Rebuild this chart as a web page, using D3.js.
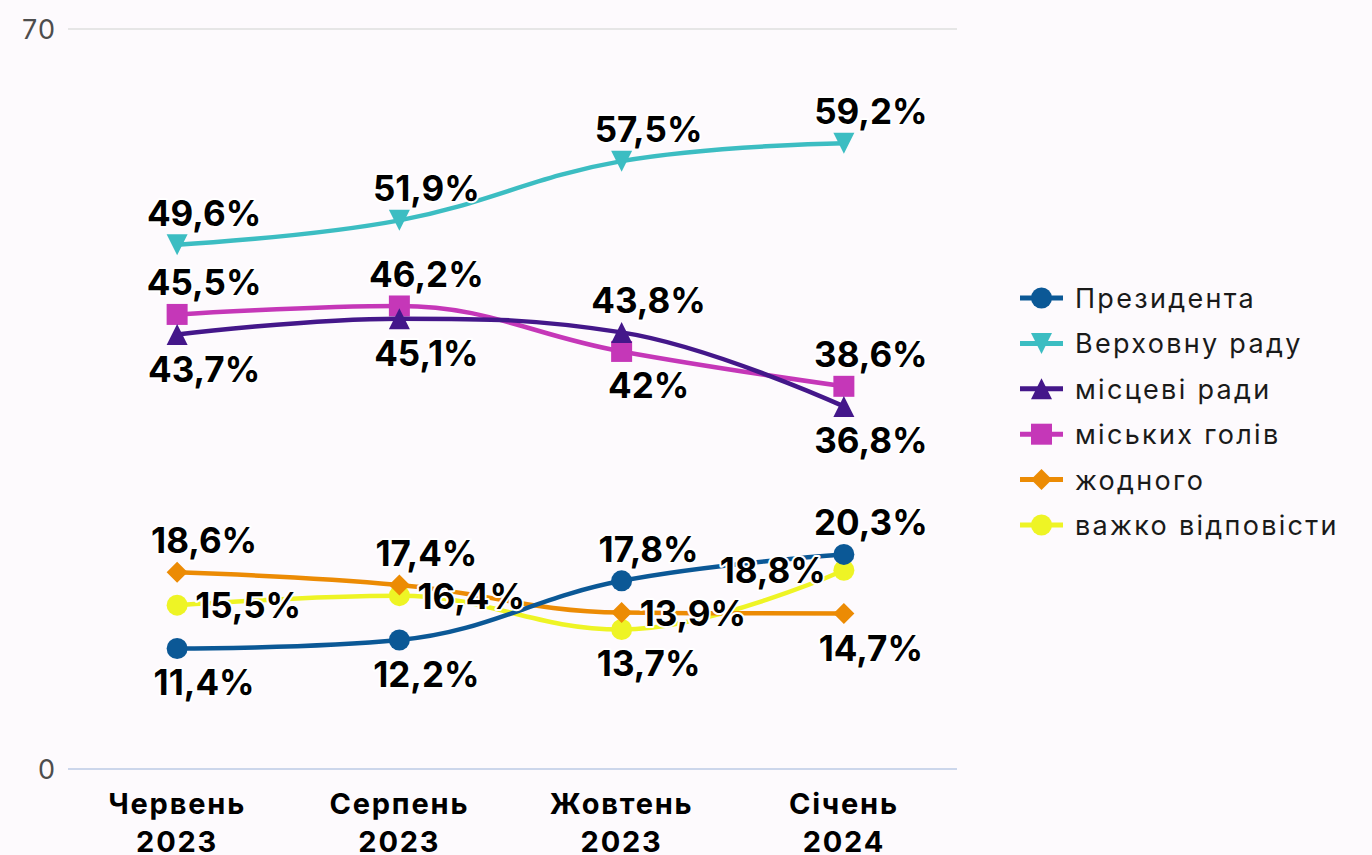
<!DOCTYPE html>
<html>
<head>
<meta charset="utf-8">
<script src="https://cdn.jsdelivr.net/npm/d3@7"></script>
<style>
  html, body { margin: 0; padding: 0; background: #fdfafd; }
  svg { display: block; font-family: Inter, "Noto Sans", sans-serif; }
</style>
</head>
<body>
<div id="chart"></div>
<script>
// categories (x axis)
const categories = ['Червень 2023', 'Серпень 2023', 'Жовтень 2023', 'Січень 2024'];
const yTicks = [0, 70];

const seriesNames = ['Президента', 'Верховну раду', 'місцеві ради', 'міських голів', 'жодного', 'важко відповісти'];

// plotted values
const president = [11.4, 12.2, 17.8, 20.3];
const parliament = [49.6, 51.9, 57.5, 59.2];
const localCouncils = [41.1, 42.6, 41.3, 34.3];
const mayors = [43.0, 43.8, 39.5, 36.2];
const nobody = [18.6, 17.4, 14.8, 14.7];
const hardToSay = [15.5, 16.4, 13.2, 18.8];

// printed data labels
const presidentLabels = ['11,4%', '12,2%', '17,8%', '20,3%'];
const parliamentLabels = ['49,6%', '51,9%', '57,5%', '59,2%'];
const localCouncilsLabels = ['43,7%', '45,1%', '43,8%', '36,8%'];
const mayorsLabels = ['45,5%', '46,2%', '42%', '38,6%'];
const nobodyLabels = ['18,6%', '17,4%', '13,9%', '14,7%'];
const hardToSayLabels = ['15,5%', '16,4%', '13,7%', '18,8%'];

const colors = ['#0b5896', '#3cbdc2', '#44178a', '#c537b8', '#ec8b04', '#eef425'];
const symbols = ['circle', 'triangle-down', 'triangle', 'square', 'diamond', 'circle'];
// where each data label sits relative to its point
const labelSides = [
  ['below', 'below', 'above', 'above'],
  ['above', 'above', 'above', 'above'],
  ['below', 'below', 'above', 'below'],
  ['above', 'above', 'below', 'above'],
  ['above', 'above', 'right', 'below'],
  ['right', 'right', 'below', 'left']
];

const values = [president, parliament, localCouncils, mayors, nobody, hardToSay];
const labels = [presidentLabels, parliamentLabels, localCouncilsLabels, mayorsLabels, nobodyLabels, hardToSayLabels];

const series = seriesNames.map((name, i) => ({
  name,
  color: colors[i],
  symbol: symbols[i],
  points: values[i].map((v, j) => ({ cat: categories[j], value: v, label: labels[i][j], side: labelSides[i][j] }))
}));

const width = 1372, height = 855;
const plot = { left: 66, right: 955, top: 29, bottom: 769 };

const svg = d3.select('#chart').append('svg')
  .attr('width', width)
  .attr('height', height);

const x = d3.scalePoint()
  .domain(categories)
  .range([plot.left, plot.right])
  .padding(0.5);

const y = d3.scaleLinear()
  .domain([0, 70])
  .range([plot.bottom, plot.top]);

// grid + y axis labels
const grid = svg.append('g').attr('class', 'grid');
grid.selectAll('line')
  .data(yTicks)
  .enter().append('line')
  .attr('x1', plot.left + 2)
  .attr('x2', plot.right + 2)
  .attr('y1', d => y(d))
  .attr('y2', d => y(d))
  .attr('stroke', d => d === 0 ? '#ccd6eb' : '#e6e6e6')
  .attr('stroke-width', 2);

grid.selectAll('text')
  .data(yTicks)
  .enter().append('text')
  .attr('x', 56)
  .attr('y', d => y(d) + 10)
  .attr('text-anchor', 'end')
  .attr('font-size', 27)
  .attr('letter-spacing', 1)
  .attr('fill', '#4d4d4d')
  .text(d => d);

// x axis labels (two lines)
const xAxis = svg.append('g').attr('class', 'x axis');
xAxis.selectAll('text')
  .data(categories)
  .enter().append('text')
  .attr('x', d => x(d))
  .attr('y', 814)
  .attr('text-anchor', 'middle')
  .attr('font-size', 29)
  .attr('font-weight', 700)
  .attr('letter-spacing', 1.8)
  .attr('fill', '#000')
  .each(function(d) {
    const parts = d.split(' ');
    d3.select(this).selectAll('tspan')
      .data(parts)
      .enter().append('tspan')
      .attr('x', x(d))
      .attr('dy', (p, i) => i === 0 ? 0 : 38)
      .text(p => p);
  });

// Highcharts-like spline
function splineCurve(context) {
  let pts = [];
  return {
    areaStart() {}, areaEnd() {},
    lineStart() { pts = []; },
    point(px, py) { pts.push({ x: +px, y: +py }); },
    lineEnd() {
      const smoothing = 1.5, denom = smoothing + 1;
      pts.forEach((p, i) => {
        if (i === 0) { context.moveTo(p.x, p.y); return; }
        const last = pts[i - 1], next = pts[i + 1];
        let lcx = p.x, lcy = p.y;
        if (next) {
          lcx = (smoothing * p.x + last.x) / denom;
          lcy = (smoothing * p.y + last.y) / denom;
          const rcx = (smoothing * p.x + next.x) / denom;
          let rcy = (smoothing * p.y + next.y) / denom;
          let corr = 0;
          if (rcx !== lcx) corr = ((rcy - lcy) * (rcx - p.x)) / (rcx - lcx) + p.y - rcy;
          lcy += corr; rcy += corr;
          if (lcy > last.y && lcy > p.y) { lcy = Math.max(last.y, p.y); rcy = 2 * p.y - lcy; }
          else if (lcy < last.y && lcy < p.y) { lcy = Math.min(last.y, p.y); rcy = 2 * p.y - lcy; }
          if (rcy > next.y && rcy > p.y) { rcy = Math.max(next.y, p.y); lcy = 2 * p.y - rcy; }
          else if (rcy < next.y && rcy < p.y) { rcy = Math.min(next.y, p.y); lcy = 2 * p.y - rcy; }
          p.rcx = rcx; p.rcy = rcy;
        }
        context.bezierCurveTo(
          last.rcx !== undefined ? last.rcx : last.x,
          last.rcy !== undefined ? last.rcy : last.y,
          lcx, lcy, p.x, p.y);
      });
    }
  };
}

const line = d3.line()
  .x(d => x(d.cat))
  .y(d => y(d.value))
  .curve(splineCurve);

function markerPath(type, r) {
  switch (type) {
    case 'square': return `M${-r},${-r}H${r}V${r}H${-r}Z`;
    case 'triangle': return `M0,${-r}L${r},${r}L${-r},${r}Z`;
    case 'triangle-down': return `M${-r},${-r}L${r},${-r}L0,${r}Z`;
    case 'diamond': return `M0,${-r}L${r},0L0,${r}L${-r},0Z`;
    default: return `M${-r},0A${r},${r} 0 1,0 ${r},0A${r},${r} 0 1,0 ${-r},0Z`;
  }
}

// draw last series first, so earlier ones sit on top
const seriesG = svg.append('g').attr('class', 'series');
const groups = seriesG.selectAll('.s')
  .data(series.slice().reverse())
  .enter().append('g')
  .attr('class', 's');

groups.append('path')
  .attr('d', d => line(d.points))
  .attr('fill', 'none')
  .attr('stroke', d => d.color)
  .attr('stroke-width', 4.5);

groups.selectAll('.marker')
  .data(d => d.points.map(p => Object.assign({ color: d.color, symbol: d.symbol }, p)))
  .enter().append('path')
  .attr('class', 'marker')
  .attr('transform', d => `translate(${x(d.cat)},${y(d.value)})`)
  .attr('d', d => markerPath(d.symbol, 10.5))
  .attr('fill', d => d.color);

// data labels on top
const labelG = svg.append('g').attr('class', 'labels');
const allLabels = [];
series.forEach(s => s.points.forEach(p => allLabels.push(p)));

labelG.selectAll('text')
  .data(allLabels)
  .enter().append('text')
  .attr('x', d => {
    const px = x(d.cat);
    if (d.side === 'right') return px + 18;
    if (d.side === 'left') return px - 18;
    return px + 27;
  })
  .attr('y', d => {
    const py = y(d.value);
    if (d.side === 'above') return py - 19;
    if (d.side === 'below') return py + 47;
    return py + 13;
  })
  .attr('text-anchor', d => d.side === 'right' ? 'start' : d.side === 'left' ? 'end' : 'middle')
  .attr('font-size', 35)
  .attr('font-weight', 700)
  .attr('fill', '#000')
  .attr('stroke', '#fff')
  .attr('stroke-width', 4)
  .attr('stroke-linejoin', 'round')
  .attr('paint-order', 'stroke')
  .text(d => d.label);

// legend
const legend = svg.append('g').attr('class', 'legend');
const items = legend.selectAll('.item')
  .data(series)
  .enter().append('g')
  .attr('class', 'item')
  .attr('transform', (d, i) => `translate(1020,${298 + i * 45.4})`);

items.append('line')
  .attr('x1', 0).attr('x2', 43)
  .attr('stroke', d => d.color)
  .attr('stroke-width', 5);

items.append('path')
  .attr('transform', 'translate(21.5,0)')
  .attr('d', d => markerPath(d.symbol, 10.5))
  .attr('fill', d => d.color);

items.append('text')
  .attr('x', 55)
  .attr('y', 10)
  .attr('font-size', 27)
  .attr('letter-spacing', 2.3)
  .attr('fill', '#1a1a1a')
  .text(d => d.name);
</script>
</body>
</html>
